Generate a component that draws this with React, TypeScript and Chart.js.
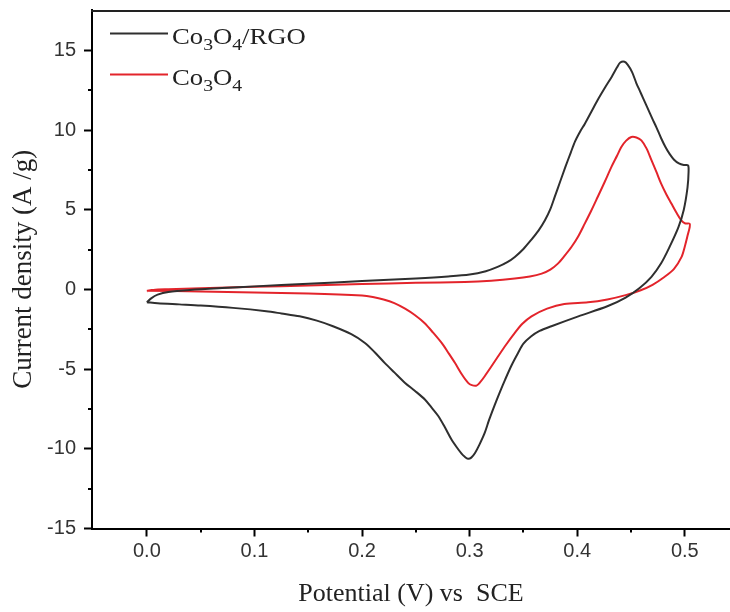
import React, { useEffect, useRef } from 'react';
import { Chart, registerables } from 'chart.js';

Chart.register(...registerables);

// ---- Data ----
const seriesNames = ['Co3O4/RGO', 'Co3O4'];
const seriesColors = ['#2f2f2f', '#e3242b'];

// Co3O4/RGO : anodic sweep from 0 V, then cathodic sweep back to 0 V
const rgoPotential = [
  0.000, 0.004, 0.010, 0.020, 0.040, 0.070, 0.100, 0.150, 0.200, 0.250, 0.280, 0.300,
  0.315, 0.326, 0.335, 0.342, 0.350, 0.357, 0.364, 0.370, 0.375, 0.379, 0.384, 0.389,
  0.394, 0.398, 0.403, 0.407, 0.413, 0.419, 0.426, 0.432, 0.437, 0.440, 0.444, 0.447,
  0.451, 0.455, 0.458, 0.461, 0.465, 0.470, 0.4735, 0.478, 0.482, 0.486, 0.490, 0.4945,
  0.499, 0.503,
  0.5035, 0.5025, 0.499, 0.494, 0.486, 0.478, 0.469, 0.458, 0.445, 0.428, 0.401, 0.376,
  0.365, 0.357, 0.350, 0.345, 0.339, 0.333, 0.328, 0.323, 0.318, 0.314, 0.309, 0.305,
  0.3015, 0.2985, 0.2955, 0.2925, 0.288, 0.283, 0.277, 0.271, 0.2645, 0.2584, 0.249, 0.240,
  0.230, 0.221, 0.212, 0.2027, 0.190, 0.173, 0.158, 0.142, 0.125, 0.111, 0.080, 0.050,
  0.030, 0.010, 0.000,
];
const rgoCurrent = [
  -0.80, -0.55, -0.32, -0.15, -0.02, 0.10, 0.20, 0.36, 0.54, 0.70, 0.82, 0.94,
  1.15, 1.42, 1.72, 2.05, 2.55, 3.10, 3.70, 4.35, 5.05, 5.80, 6.75, 7.70,
  8.60, 9.30, 9.95, 10.40, 11.15, 11.90, 12.70, 13.35, 13.95, 14.25, 14.30, 14.10,
  13.65, 12.95, 12.50, 12.05, 11.45, 10.70, 10.20, 9.50, 8.95, 8.50, 8.15, 7.92,
  7.82, 7.80,
  7.40, 6.40, 5.00, 3.90, 2.70, 1.65, 0.80, 0.10, -0.50, -1.05, -1.68, -2.30,
  -2.60, -2.95, -3.40, -3.98, -4.75, -5.65, -6.45, -7.30, -8.20, -9.00, -9.75, -10.26,
  -10.55, -10.62, -10.50, -10.30, -9.90, -9.40, -8.65, -7.95, -7.40, -6.90, -6.35, -5.86,
  -5.20, -4.60, -3.95, -3.35, -2.80, -2.30, -1.95, -1.68, -1.50, -1.36, -1.15, -1.00,
  -0.93, -0.86, -0.80,
];

// Co3O4 : anodic sweep from 0 V, then cathodic sweep back to 0 V
const co3o4Potential = [
  0.000, 0.006, 0.020, 0.050, 0.100, 0.150, 0.200, 0.250, 0.2955, 0.320, 0.342, 0.356,
  0.367, 0.375, 0.382, 0.388, 0.3946, 0.401, 0.407, 0.413, 0.419, 0.4255, 0.4318, 0.437,
  0.441, 0.4455, 0.4503, 0.455, 0.4596, 0.4645, 0.469, 0.4735, 0.478, 0.483, 0.4875, 0.492,
  0.4967, 0.5005, 0.5045,
  0.5045, 0.503, 0.500, 0.497, 0.490, 0.481, 0.470, 0.459, 0.445, 0.428, 0.410, 0.388,
  0.372, 0.3575, 0.349, 0.342, 0.334, 0.3265, 0.320, 0.314, 0.310, 0.3064, 0.302, 0.2986,
  0.293, 0.2863, 0.280, 0.274, 0.266, 0.258, 0.249, 0.240, 0.230, 0.220, 0.210, 0.200,
  0.150, 0.100, 0.050, 0.000,
];
const co3o4Current = [
  -0.10, -0.02, 0.02, 0.08, 0.17, 0.26, 0.35, 0.42, 0.48, 0.56, 0.69, 0.82,
  1.00, 1.25, 1.63, 2.10, 2.67, 3.35, 4.14, 4.95, 5.81, 6.75, 7.70, 8.40,
  8.95, 9.35, 9.58, 9.55, 9.37, 8.85, 8.12, 7.40, 6.65, 5.95, 5.40, 4.85,
  4.35, 4.15, 4.14,
  3.90, 3.50, 2.70, 2.05, 1.30, 0.79, 0.30, -0.04, -0.35, -0.62, -0.80, -0.90,
  -1.20, -1.68, -2.15, -2.72, -3.45, -4.19, -4.85, -5.44, -5.80, -6.03, -6.00, -5.86,
  -5.35, -4.60, -3.95, -3.35, -2.70, -2.10, -1.60, -1.20, -0.85, -0.62, -0.47, -0.38,
  -0.25, -0.18, -0.12, -0.07,
];

const X_MIN = -0.051;
const X_MAX = 0.542;
const X_STEP = 0.05;
const Y_MIN = -15;
const Y_MAX = 17.55;
const Y_STEP = 2.5;
const Y_LABEL_STEP = 5;

const xTitle = 'Potential (V) vs  SCE';
const yTitle = 'Current density (A /g)';

const SERIF = '"Liberation Serif", "Times New Roman", "DejaVu Serif", serif';
const SANS = '"Liberation Sans", Arial, "DejaVu Sans", sans-serif';

const isMajorX = (v: number) => Math.abs(v * 10 - Math.round(v * 10)) < 1e-6;
const isMajorY = (v: number) => Math.abs(v / Y_LABEL_STEP - Math.round(v / Y_LABEL_STEP)) < 1e-6;

const toPoints = (xs: number[], ys: number[]) => xs.map((x, i) => ({ x, y: ys[i] }));

// split a chemical formula into normal text and subscript digits
function formulaParts(s: string) {
  const parts: { t: string; sub: boolean }[] = [];
  for (const ch of s) {
    const sub = /[0-9]/.test(ch);
    const last = parts[parts.length - 1];
    if (last && last.sub === sub) last.t += ch;
    else parts.push({ t: ch, sub });
  }
  return parts;
}

const zeroPadding = (s: any) => {
  s.paddingLeft = 0;
  s.paddingRight = 0;
  s.paddingTop = 0;
  s.paddingBottom = 0;
};

const decorPlugin = {
  id: 'decor',
  afterDraw(chart: any) {
    const { ctx, chartArea: a, scales } = chart;
    ctx.save();
    // top frame line
    ctx.strokeStyle = '#222';
    ctx.lineWidth = 2;
    ctx.beginPath();
    ctx.moveTo(a.left - 1, a.top + 1);
    ctx.lineTo(a.right, a.top + 1);
    ctx.stroke();

    // minor ticks
    ctx.strokeStyle = '#000';
    ctx.lineWidth = 2;
    scales.x.ticks.forEach((t: any) => {
      if (isMajorX(t.value) || t.value < -0.049) return;
      const px = Math.round(scales.x.getPixelForValue(t.value));
      ctx.beginPath();
      ctx.moveTo(px, a.bottom);
      ctx.lineTo(px, a.bottom + 4);
      ctx.stroke();
    });
    scales.y.ticks.forEach((t: any) => {
      if (isMajorY(t.value) || t.value > 15) return;
      const py = Math.round(scales.y.getPixelForValue(t.value));
      ctx.beginPath();
      ctx.moveTo(a.left - 4, py);
      ctx.lineTo(a.left, py);
      ctx.stroke();
    });

    // legend with subscripts
    const rows = [
      { lineY: 33.5, base: 43.5 },
      { lineY: 74.5, base: 85 },
    ];
    seriesNames.forEach((name, i) => {
      const r = rows[i];
      ctx.strokeStyle = seriesColors[i];
      ctx.lineWidth = 2;
      ctx.beginPath();
      ctx.moveTo(110, r.lineY);
      ctx.lineTo(168, r.lineY);
      ctx.stroke();
      ctx.save();
      ctx.translate(172, r.base);
      ctx.scale(1.16, 1);
      ctx.fillStyle = '#222';
      ctx.textBaseline = 'alphabetic';
      ctx.textAlign = 'left';
      let x = 0;
      formulaParts(name).forEach((p) => {
        ctx.font = p.sub ? `17px ${SERIF}` : `23px ${SERIF}`;
        ctx.fillText(p.t, x, p.sub ? 6 : 0);
        x += ctx.measureText(p.t).width;
      });
      ctx.restore();
    });
    ctx.restore();
  },
};

export default function App() {
  const canvasRef = useRef<HTMLCanvasElement | null>(null);

  useEffect(() => {
    const canvas = canvasRef.current;
    if (!canvas) return;
    const chart = new Chart(canvas, {
      type: 'scatter',
      data: {
        datasets: [
          {
            label: seriesNames[0],
            data: toPoints(rgoPotential, rgoCurrent),
            showLine: true,
            borderColor: seriesColors[0],
            borderWidth: 2,
            pointRadius: 0,
            tension: 0.3,
            fill: false,
          },
          {
            label: seriesNames[1],
            data: toPoints(co3o4Potential, co3o4Current),
            showLine: true,
            borderColor: seriesColors[1],
            borderWidth: 2,
            pointRadius: 0,
            tension: 0.3,
            fill: false,
          },
        ],
      },
      options: {
        responsive: false,
        animation: false,
        devicePixelRatio: 1,
        layout: { padding: { top: 10, right: 0, bottom: 0, left: 0 } },
        plugins: {
          legend: { display: false },
          tooltip: { enabled: false },
        },
        scales: {
          x: {
            type: 'linear',
            min: X_MIN,
            max: X_MAX,
            afterFit: (s: any) => {
              s.height = 83.5;
              zeroPadding(s);
            },
            ticks: {
              stepSize: X_STEP,
              autoSkip: false,
              includeBounds: false,
              maxRotation: 0,
              padding: 3,
              color: '#333',
              font: { family: SANS, size: 20 },
              callback: (v: any) => (isMajorX(Number(v)) ? (Math.round(Number(v) * 10) / 10).toFixed(1) : ''),
            },
            grid: {
              drawOnChartArea: false,
              drawTicks: true,
              tickLength: 8,
              tickWidth: 2,
              tickColor: (c: any) => (c.tick && isMajorX(c.tick.value) ? '#000' : 'rgba(0,0,0,0)'),
            },
            border: { display: true, color: '#000', width: 2 },
            title: {
              display: true,
              text: xTitle,
              color: '#222',
              font: { family: SERIF, size: 26 },
              padding: { top: 0, bottom: 2 },
            },
          },
          y: {
            type: 'linear',
            min: Y_MIN,
            max: Y_MAX,
            afterFit: (s: any) => {
              s.width = 92;
              zeroPadding(s);
            },
            ticks: {
              stepSize: Y_STEP,
              autoSkip: false,
              includeBounds: false,
              padding: 8,
              color: '#333',
              font: { family: SANS, size: 20 },
              callback: (v: any) => (isMajorY(Number(v)) ? String(Math.round(Number(v))) : ''),
            },
            grid: {
              drawOnChartArea: false,
              drawTicks: true,
              tickLength: 8,
              tickWidth: 2,
              tickColor: (c: any) => (c.tick && isMajorY(c.tick.value) && c.tick.value <= 15 ? '#000' : 'rgba(0,0,0,0)'),
            },
            border: { display: true, color: '#000', width: 2 },
            title: {
              display: true,
              text: yTitle,
              color: '#222',
              font: { family: SERIF, size: 27 },
              padding: { top: 8, bottom: 0 },
            },
          },
        },
      },
      plugins: [decorPlugin],
    } as any);
    return () => chart.destroy();
  }, []);

  return (
    <div style={{ position: 'absolute', left: 0, top: 0, width: 730, height: 612, background: '#fff' }}>
      <canvas ref={canvasRef} width={730} height={612} style={{ display: 'block', width: 730, height: 612 }} />
    </div>
  );
}
